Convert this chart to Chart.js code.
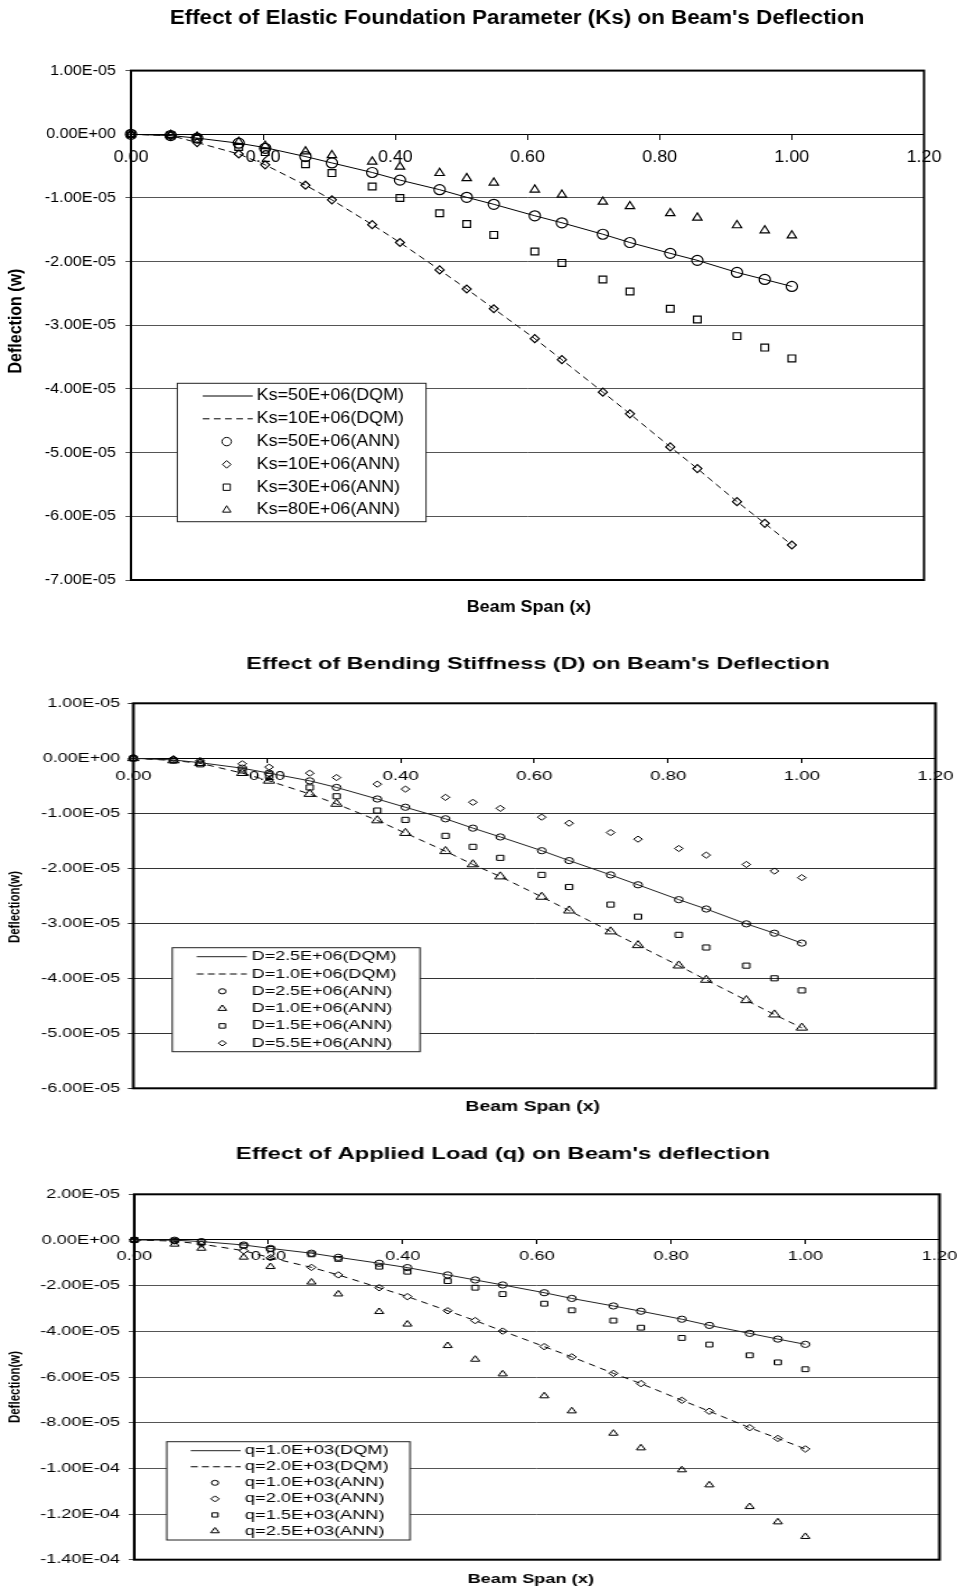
<!DOCTYPE html>
<html>
<head>
<meta charset="utf-8">
<script src="https://cdn.jsdelivr.net/npm/chart.js@4.4.1/dist/chart.umd.min.js"></script>
<style>
html,body{margin:0;padding:0;background:#fff;}
body{width:957px;height:1589px;position:relative;overflow:hidden;}
canvas{position:absolute;left:0;}
</style>
</head>
<body>
<canvas id="c1" width="855" height="625" style="top:0px;width:957px;height:625px"></canvas>
<canvas id="c2" width="693" height="495" style="top:625px;width:957px;height:495px"></canvas>
<canvas id="c3" width="684" height="469" style="top:1120px;width:957px;height:469px"></canvas>
<script>
// ---------- data ----------
const spanX = [0, 0.060, 0.100, 0.163, 0.203, 0.264, 0.304, 0.365, 0.407, 0.467, 0.508, 0.549, 0.611, 0.652, 0.714, 0.755, 0.816, 0.857, 0.917, 0.959, 1.000];
const xTickValues = [0, 0.2, 0.4, 0.6, 0.8, 1.0, 1.2];

// Chart 1: elastic foundation parameter
const ks50DQM = [0, -0.02e-5, -0.06e-5, -0.14e-5, -0.21e-5, -0.35e-5, -0.45e-5, -0.60e-5, -0.72e-5, -0.87e-5, -0.99e-5, -1.10e-5, -1.28e-5, -1.39e-5, -1.57e-5, -1.70e-5, -1.87e-5, -1.98e-5, -2.17e-5, -2.28e-5, -2.39e-5];
const ks10DQM = [0, -0.02e-5, -0.13e-5, -0.31e-5, -0.48e-5, -0.80e-5, -1.03e-5, -1.42e-5, -1.70e-5, -2.13e-5, -2.43e-5, -2.74e-5, -3.21e-5, -3.54e-5, -4.05e-5, -4.39e-5, -4.91e-5, -5.25e-5, -5.77e-5, -6.11e-5, -6.45e-5];
const ks50ANN = [0, -0.02e-5, -0.06e-5, -0.14e-5, -0.22e-5, -0.35e-5, -0.45e-5, -0.60e-5, -0.72e-5, -0.87e-5, -0.99e-5, -1.10e-5, -1.28e-5, -1.39e-5, -1.57e-5, -1.70e-5, -1.87e-5, -1.98e-5, -2.17e-5, -2.28e-5, -2.39e-5];
const ks10ANN = [0, -0.02e-5, -0.13e-5, -0.31e-5, -0.48e-5, -0.80e-5, -1.03e-5, -1.42e-5, -1.70e-5, -2.13e-5, -2.43e-5, -2.74e-5, -3.21e-5, -3.54e-5, -4.05e-5, -4.39e-5, -4.91e-5, -5.25e-5, -5.77e-5, -6.11e-5, -6.45e-5];
const ks30ANN = [0, -0.02e-5, -0.07e-5, -0.20e-5, -0.28e-5, -0.47e-5, -0.61e-5, -0.82e-5, -1.00e-5, -1.24e-5, -1.41e-5, -1.58e-5, -1.84e-5, -2.02e-5, -2.28e-5, -2.47e-5, -2.74e-5, -2.91e-5, -3.17e-5, -3.35e-5, -3.52e-5];
const ks80ANN = [0, -0.01e-5, -0.04e-5, -0.12e-5, -0.18e-5, -0.27e-5, -0.33e-5, -0.43e-5, -0.51e-5, -0.61e-5, -0.69e-5, -0.76e-5, -0.87e-5, -0.95e-5, -1.06e-5, -1.13e-5, -1.24e-5, -1.31e-5, -1.43e-5, -1.51e-5, -1.59e-5];
const ksYTicks = [-7e-5, -6e-5, -5e-5, -4e-5, -3e-5, -2e-5, -1e-5, 0, 1e-5];

// Chart 2: bending stiffness
const d25DQM = [0, -0.03e-5, -0.08e-5, -0.18e-5, -0.27e-5, -0.41e-5, -0.53e-5, -0.74e-5, -0.89e-5, -1.10e-5, -1.27e-5, -1.43e-5, -1.68e-5, -1.86e-5, -2.12e-5, -2.30e-5, -2.57e-5, -2.74e-5, -3.01e-5, -3.18e-5, -3.36e-5];
const d10DQM = [0, -0.04e-5, -0.09e-5, -0.27e-5, -0.41e-5, -0.65e-5, -0.83e-5, -1.13e-5, -1.36e-5, -1.69e-5, -1.93e-5, -2.15e-5, -2.52e-5, -2.77e-5, -3.15e-5, -3.40e-5, -3.77e-5, -4.03e-5, -4.40e-5, -4.66e-5, -4.90e-5];
const d25ANN = [0, -0.03e-5, -0.08e-5, -0.18e-5, -0.27e-5, -0.41e-5, -0.53e-5, -0.74e-5, -0.89e-5, -1.10e-5, -1.27e-5, -1.43e-5, -1.68e-5, -1.86e-5, -2.12e-5, -2.30e-5, -2.57e-5, -2.74e-5, -3.01e-5, -3.18e-5, -3.36e-5];
const d10ANN = [0, -0.04e-5, -0.09e-5, -0.27e-5, -0.41e-5, -0.65e-5, -0.83e-5, -1.13e-5, -1.36e-5, -1.69e-5, -1.93e-5, -2.15e-5, -2.52e-5, -2.77e-5, -3.15e-5, -3.40e-5, -3.77e-5, -4.03e-5, -4.40e-5, -4.66e-5, -4.90e-5];
const d15ANN = [0, -0.04e-5, -0.11e-5, -0.22e-5, -0.32e-5, -0.53e-5, -0.69e-5, -0.95e-5, -1.12e-5, -1.41e-5, -1.61e-5, -1.81e-5, -2.12e-5, -2.34e-5, -2.66e-5, -2.88e-5, -3.21e-5, -3.44e-5, -3.77e-5, -4.00e-5, -4.22e-5];
const d55ANN = [0, -0.01e-5, -0.04e-5, -0.10e-5, -0.16e-5, -0.27e-5, -0.35e-5, -0.47e-5, -0.56e-5, -0.71e-5, -0.80e-5, -0.91e-5, -1.07e-5, -1.18e-5, -1.35e-5, -1.47e-5, -1.64e-5, -1.76e-5, -1.93e-5, -2.05e-5, -2.17e-5];
const dYTicks = [-6e-5, -5e-5, -4e-5, -3e-5, -2e-5, -1e-5, 0, 1e-5];

// Chart 3: applied load
const q10DQM = [0, -0.01e-5, -0.07e-5, -0.22e-5, -0.37e-5, -0.58e-5, -0.76e-5, -1.02e-5, -1.21e-5, -1.53e-5, -1.75e-5, -1.97e-5, -2.31e-5, -2.56e-5, -2.89e-5, -3.12e-5, -3.47e-5, -3.74e-5, -4.09e-5, -4.34e-5, -4.57e-5];
const q20DQM = [0, -0.05e-5, -0.18e-5, -0.47e-5, -0.78e-5, -1.20e-5, -1.53e-5, -2.09e-5, -2.48e-5, -3.10e-5, -3.53e-5, -3.99e-5, -4.67e-5, -5.12e-5, -5.84e-5, -6.29e-5, -7.02e-5, -7.50e-5, -8.22e-5, -8.69e-5, -9.15e-5];
const q10ANN = [0, -0.01e-5, -0.07e-5, -0.22e-5, -0.37e-5, -0.58e-5, -0.76e-5, -1.02e-5, -1.21e-5, -1.53e-5, -1.75e-5, -1.97e-5, -2.31e-5, -2.56e-5, -2.89e-5, -3.12e-5, -3.47e-5, -3.74e-5, -4.09e-5, -4.34e-5, -4.57e-5];
const q20ANN = [0, -0.05e-5, -0.18e-5, -0.47e-5, -0.78e-5, -1.20e-5, -1.53e-5, -2.09e-5, -2.48e-5, -3.10e-5, -3.53e-5, -3.99e-5, -4.67e-5, -5.12e-5, -5.84e-5, -6.29e-5, -7.02e-5, -7.50e-5, -8.22e-5, -8.69e-5, -9.15e-5];
const q15ANN = [0, -0.03e-5, -0.10e-5, -0.25e-5, -0.39e-5, -0.63e-5, -0.83e-5, -1.17e-5, -1.39e-5, -1.80e-5, -2.09e-5, -2.37e-5, -2.79e-5, -3.08e-5, -3.53e-5, -3.84e-5, -4.29e-5, -4.58e-5, -5.05e-5, -5.36e-5, -5.66e-5];
const q25ANN = [0, -0.19e-5, -0.37e-5, -0.76e-5, -1.17e-5, -1.85e-5, -2.37e-5, -3.14e-5, -3.69e-5, -4.63e-5, -5.23e-5, -5.87e-5, -6.83e-5, -7.49e-5, -8.47e-5, -9.11e-5, -10.07e-5, -10.73e-5, -11.68e-5, -12.35e-5, -12.99e-5];
const qYTicks = [-14e-5, -12e-5, -10e-5, -8e-5, -6e-5, -4e-5, -2e-5, 0, 2e-5];

// ---------- text ----------
const titleKs = "Effect of Elastic Foundation Parameter (Ks) on Beam's Deflection";
const titleD = "Effect of Bending Stiffness (D) on Beam's Deflection";
const titleQ = "Effect of Applied Load (q) on Beam's deflection";
const xAxisTitle = "Beam Span (x)";
const yTitleKs = "Deflection (w)";
const yTitleD = "Deflection(w)";
const yTitleQ = "Deflection(w)";

const FAM = "'Liberation Sans', Arial, Helvetica, sans-serif";
Chart.defaults.font.family = FAM;
Chart.defaults.color = '#000';

function fmtExp(v) {
  if (Math.abs(v) < 1e-12) v = 0;
  return v.toExponential(2).toUpperCase().replace(/E([+-])(\d+)$/, function (m, sg, d) {
    return 'E' + sg + (d.length < 2 ? '0' + d : d);
  });
}

function pts(ys) { return spanX.map(function (x, i) { return { x: x, y: ys[i] }; }); }

function lineDs(label, ys, dash, color) {
  return { label: label, data: pts(ys), showLine: true, borderColor: color, borderWidth: 1,
    borderDash: dash, pointRadius: 0, pointHoverRadius: 0, fill: false, tension: 0, clip: false };
}
function markDs(label, ys, style, r, bw) {
  return { label: label, data: pts(ys), showLine: false, pointStyle: style, pointRadius: r,
    pointHoverRadius: r, pointBorderColor: '#000', pointBackgroundColor: 'rgba(0,0,0,0)',
    pointBorderWidth: bw || 1, borderColor: '#000', clip: false };
}

function drawMarker(ctx, style, x, y, r, bw) {
  ctx.beginPath();
  if (style === 'circle') {
    ctx.arc(x, y, r, 0, Math.PI * 2);
  } else if (style === 'rect') {
    const s = Math.SQRT1_2 * r;
    ctx.rect(x - s, y - s, 2 * s, 2 * s);
  } else if (style === 'rectRot') {
    ctx.moveTo(x - r, y); ctx.lineTo(x, y - r); ctx.lineTo(x + r, y); ctx.lineTo(x, y + r); ctx.closePath();
  } else if (style === 'triangle') {
    let a = 0;
    ctx.moveTo(x + Math.sin(a) * r, y - Math.cos(a) * r);
    a += Math.PI * 2 / 3;
    ctx.lineTo(x + Math.sin(a) * r, y - Math.cos(a) * r);
    a += Math.PI * 2 / 3;
    ctx.lineTo(x + Math.sin(a) * r, y - Math.cos(a) * r);
    ctx.closePath();
  }
  ctx.strokeStyle = '#000'; ctx.lineWidth = bw || 1; ctx.stroke();
}

function makeDecor(c) {
  const sx = function (v) { return v / c.s; };
  return {
    id: 'paperDecor',
    afterDraw: function (chart) {
      const ctx = chart.ctx, a = chart.chartArea;
      ctx.save();
      // plot frame
      ctx.strokeStyle = '#000'; ctx.lineWidth = c.frameWidth; ctx.setLineDash([]);
      ctx.strokeRect(a.left, a.top, a.right - a.left, a.bottom - a.top);
      // chart title
      ctx.fillStyle = '#000'; ctx.textAlign = 'center'; ctx.textBaseline = 'middle';
      ctx.font = c.title.font; ctx.fillText(c.title.text, sx(c.title.x), c.title.y);
      // x axis title
      ctx.font = c.xTitle.font; ctx.fillText(c.xTitle.text, sx(c.xTitle.x), c.xTitle.y);
      // y axis title
      ctx.save();
      ctx.translate(sx(c.yTitle.x), c.yTitle.y); ctx.rotate(-Math.PI / 2);
      ctx.font = c.yTitle.font; ctx.fillText(c.yTitle.text, 0, 0);
      ctx.restore();
      // legend
      const L = c.legend;
      const bx = sx(L.box[0]), by = L.box[1], bw = sx(L.box[2]) - sx(L.box[0]), bh = L.box[3] - L.box[1];
      ctx.fillStyle = '#fff'; ctx.fillRect(bx, by, bw, bh);
      ctx.strokeStyle = '#222'; ctx.lineWidth = 1; ctx.strokeRect(bx, by, bw, bh);
      chart.data.datasets.forEach(function (ds, i) {
        const y = L.row0 + i * L.dy;
        if (ds.showLine) {
          ctx.beginPath(); ctx.setLineDash(L.dash && ds.borderDash.length ? L.dash : []);
          ctx.strokeStyle = ds.borderColor; ctx.lineWidth = 1;
          ctx.moveTo(sx(L.line[0]), y); ctx.lineTo(sx(L.line[1]), y); ctx.stroke();
          ctx.setLineDash([]);
        } else {
          drawMarker(ctx, ds.pointStyle, sx(L.markerX), y, L.r[ds.pointStyle], 1);
        }
        ctx.fillStyle = '#000'; ctx.textAlign = 'left'; ctx.textBaseline = 'middle';
        ctx.font = L.font; ctx.fillText(ds.label, sx(L.textX), y);
      });
      ctx.restore();
    }
  };
}

function buildChart(id, c) {
  const sx = function (v) { return v / c.s; };
  return new Chart(document.getElementById(id), {
    type: 'line',
    data: { datasets: c.datasets },
    options: {
      responsive: false, animation: false, devicePixelRatio: 1, events: [],
      layout: { padding: { left: 0, top: c.area.top, right: c.W - sx(c.area.right), bottom: c.H - c.area.bottom } },
      plugins: { legend: { display: false }, tooltip: { enabled: false }, title: { display: false } },
      scales: {
        x: {
          type: 'linear', position: { y: 0 }, min: 0, max: 1.2,
          afterBuildTicks: function (s) { s.ticks = xTickValues.map(function (v) { return { value: v }; }); },
          afterFit: function (s) { s.paddingLeft = 0; s.paddingRight = 0; },
          grid: { drawOnChartArea: false, drawTicks: true, tickLength: c.xTickLen, tickColor: '#000', lineWidth: 1 },
          border: { display: true, color: '#000', width: 1 },
          ticks: { font: { size: c.xFont, family: FAM }, color: '#000', padding: c.xPad, maxRotation: 0, autoSkip: false,
            callback: function (v) { return Number(v).toFixed(2); } }
        },
        y: {
          type: 'linear', position: 'left', min: c.yTicks[0], max: c.yTicks[c.yTicks.length - 1],
          afterBuildTicks: function (s) { s.ticks = c.yTicks.map(function (v) { return { value: v }; }); },
          afterFit: function (s) { s.width = sx(c.area.left); s.paddingTop = 0; s.paddingBottom = 0; },
          grid: { color: c.gridColor, lineWidth: 1, drawTicks: true, tickLength: c.yTickLen, tickColor: c.gridColor },
          border: { display: false },
          ticks: { font: { size: c.yFont, family: FAM }, color: '#000', padding: c.yPad, autoSkip: false,
            callback: function (v) { return fmtExp(v); } }
        }
      }
    },
    plugins: [makeDecor(c)]
  });
}

// ---------- chart 1 ----------
buildChart('c1', {
  s: 957 / 855, W: 855, H: 625,
  area: { left: 131, right: 924, top: 70.6, bottom: 580 },
  yTicks: ksYTicks, gridColor: '#555', frameWidth: 2,
  xFont: 16, xTickLen: 5, xPad: 8.8, yFont: 14.5, yTickLen: 5, yPad: 8.4,
  title: { text: titleKs, x: 517, y: 18.3, font: 'bold 20px ' + FAM },
  xTitle: { text: xAxisTitle, x: 529, y: 608, font: 'bold 16px ' + FAM },
  yTitle: { text: yTitleKs, x: 16, y: 321, font: 'bold 16px ' + FAM },
  legend: { box: [177.3, 383.3, 426, 521.7], row0: 396, dy: 22.8, line: [202.7, 252.7], markerX: 226.7, textX: 256.7,
    font: '16px ' + FAM, dash: [6, 4], r: { circle: 4.2, rectRot: 3.8, rect: 4.5, triangle: 4.3 } },
  datasets: [
    lineDs('Ks=50E+06(DQM)', ks50DQM, [], '#000'),
    lineDs('Ks=10E+06(DQM)', ks10DQM, [6, 4], '#000'),
    markDs('Ks=50E+06(ANN)', ks50ANN, 'circle', 5, 1.2),
    markDs('Ks=10E+06(ANN)', ks10ANN, 'rectRot', 4, 1.2),
    markDs('Ks=30E+06(ANN)', ks30ANN, 'rect', 4.8, 1.2),
    markDs('Ks=80E+06(ANN)', ks80ANN, 'triangle', 4.8, 1.2)
  ]
});

// ---------- chart 2 ----------
buildChart('c2', {
  s: 957 / 693, W: 693, H: 495,
  area: { left: 133.3, right: 935.5, top: 78.3, bottom: 463.3 },
  yTicks: dYTicks, gridColor: '#333', frameWidth: 2,
  xFont: 13.5, xTickLen: 4, xPad: 5.6, yFont: 13, yTickLen: 4, yPad: 5.6,
  title: { text: titleD, x: 538, y: 39, font: 'bold 17px ' + FAM },
  xTitle: { text: xAxisTitle, x: 532.7, y: 482, font: 'bold 14px ' + FAM },
  yTitle: { text: yTitleD, x: 15, y: 282, font: 'bold 11.5px ' + FAM },
  legend: { box: [172.3, 322.7, 420, 426.7], row0: 331.7, dy: 17.3, line: [196.7, 246.7], markerX: 222.3, textX: 251.7,
    font: '13px ' + FAM, dash: [5, 3], r: { circle: 2.6, triangle: 3.6, rect: 3.2, rectRot: 2.8 } },
  datasets: [
    lineDs('D=2.5E+06(DQM)', d25DQM, [], '#222'),
    lineDs('D=1.0E+06(DQM)', d10DQM, [5, 4], '#000'),
    markDs('D=2.5E+06(ANN)', d25ANN, 'circle', 3.1),
    markDs('D=1.0E+06(ANN)', d10ANN, 'triangle', 4.7),
    markDs('D=1.5E+06(ANN)', d15ANN, 'rect', 3.6),
    markDs('D=5.5E+06(ANN)', d55ANN, 'rectRot', 3.1)
  ]
});

// ---------- chart 3 ----------
buildChart('c3', {
  s: 957 / 684, W: 684, H: 469,
  area: { left: 134.3, right: 939.5, top: 74.3, bottom: 439.7 },
  yTicks: qYTicks, gridColor: '#555', frameWidth: 2,
  xFont: 13, xTickLen: 4, xPad: 4.9, yFont: 13, yTickLen: 4, yPad: 6.2,
  title: { text: titleQ, x: 503, y: 34, font: 'bold 17px ' + FAM },
  xTitle: { text: xAxisTitle, x: 530.7, y: 459, font: 'bold 13px ' + FAM },
  yTitle: { text: yTitleQ, x: 15, y: 267, font: 'bold 11.5px ' + FAM },
  legend: { box: [166.7, 321.7, 410, 420], row0: 330.7, dy: 16.06, line: [190.7, 240.7], markerX: 215, textX: 245,
    font: '13px ' + FAM, dash: [5, 3], r: { circle: 2.5, rectRot: 3, rect: 3, triangle: 3.5 } },
  datasets: [
    lineDs('q=1.0E+03(DQM)', q10DQM, [], '#222'),
    lineDs('q=2.0E+03(DQM)', q20DQM, [5, 4], '#000'),
    markDs('q=1.0E+03(ANN)', q10ANN, 'circle', 3.1),
    markDs('q=2.0E+03(ANN)', q20ANN, 'rectRot', 3.2),
    markDs('q=1.5E+03(ANN)', q15ANN, 'rect', 3.4),
    markDs('q=2.5E+03(ANN)', q25ANN, 'triangle', 3.7)
  ]
});
</script>
</body>
</html>
